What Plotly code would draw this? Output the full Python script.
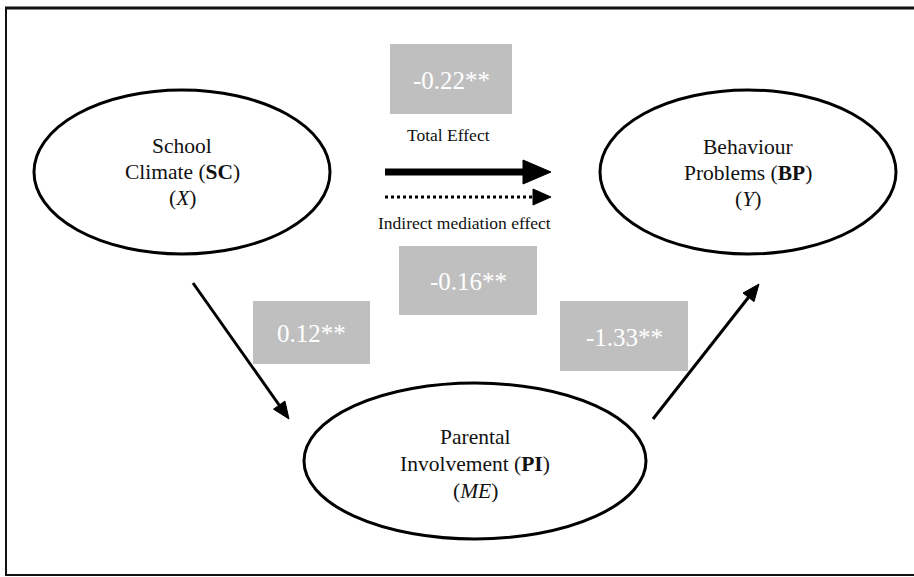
import numpy as np
import plotly.graph_objects as go

# ---- content (values / labels) ----
node_names = ["SC", "BP", "PI"]
node_lines = [
    ["School", "Climate (<b>SC</b>)", "(<i>X</i>)"],
    ["Behaviour", "Problems (<b>BP</b>)", "(<i>Y</i>)"],
    ["Parental", "Involvement (<b>PI</b>)", "(<i>ME</i>)"],
]
coef_labels = ["-0.22**", "-0.16**", "0.12**", "-1.33**"]
legend_labels = ["Total Effect", "Indirect mediation effect"]

# ---- layout geometry (pixels in a 914x577 canvas) ----
W, H = 914, 577
ellipses = {  # cx, cy, rx, ry
    "SC": (182, 172, 148, 82),
    "BP": (748, 172, 148, 82),
    "PI": (475, 461, 171, 78),
}
line_y = {"SC": [146, 172, 198], "BP": [147, 173, 199], "PI": [437, 464, 491]}
coef_boxes = [  # x0, y0, x1, y1
    (390, 44, 512, 114),
    (399, 246, 537, 315),
    (253, 301, 370, 364),
    (560, 301, 688, 371),
]
serif = "Liberation Serif"
ink = "#111111"
gray = "#bfbfbf"

shapes = []
annotations = []

# frame
shapes.append(dict(type="line", x0=5, y0=8, x1=W, y1=8, line=dict(color="#111", width=3)))
shapes.append(dict(type="line", x0=6, y0=7, x1=6, y1=575, line=dict(color="#111", width=2)))
shapes.append(dict(type="line", x0=5, y0=575, x1=W, y1=575, line=dict(color="#111", width=2)))

# ellipses and their text
for name, lines in zip(node_names, node_lines):
    cx, cy, rx, ry = ellipses[name]
    shapes.append(dict(type="circle", x0=cx - rx, x1=cx + rx, y0=cy - ry, y1=cy + ry,
                       line=dict(color="#000", width=3), fillcolor="rgba(0,0,0,0)"))
    for txt, yy in zip(lines, line_y[name]):
        annotations.append(dict(x=cx, y=yy, text=txt, showarrow=False,
                                font=dict(family=serif, size=21.5, color=ink),
                                xanchor="center", yanchor="middle"))

# coefficient boxes
for (x0, y0, x1, y1), lab in zip(coef_boxes, coef_labels):
    shapes.append(dict(type="rect", x0=x0, y0=y0, x1=x1, y1=y1,
                       fillcolor=gray, line=dict(width=0), layer="below"))
    annotations.append(dict(x=(x0 + x1) / 2, y=(y0 + y1) / 2 + 1, text=lab, showarrow=False,
                            font=dict(family=serif, size=25, color="white"),
                            xanchor="center", yanchor="middle"))

# legend texts
annotations.append(dict(x=448, y=135, text=legend_labels[0], showarrow=False,
                        font=dict(family=serif, size=17.5, color=ink)))
annotations.append(dict(x=464, y=223, text=legend_labels[1], showarrow=False,
                        font=dict(family=serif, size=17.5, color=ink)))


def arrow(p0, p1, width, head_len, head_half, dash="solid"):
    p0 = np.array(p0, float)
    p1 = np.array(p1, float)
    d = p1 - p0
    u = d / np.linalg.norm(d)
    n = np.array([-u[1], u[0]])
    base = p1 - head_len * u
    shaft_end = p1 - (head_len - 2) * u
    shapes.append(dict(type="line", x0=p0[0], y0=p0[1], x1=shaft_end[0], y1=shaft_end[1],
                       line=dict(color="#000", width=width, dash=dash)))
    a = base + head_half * n
    b = base - head_half * n
    path = f"M {p1[0]:.2f},{p1[1]:.2f} L {a[0]:.2f},{a[1]:.2f} L {b[0]:.2f},{b[1]:.2f} Z"
    shapes.append(dict(type="path", path=path, fillcolor="#000", line=dict(color="#000", width=1)))


# legend arrows
arrow((385, 172), (551, 172), 7, 28, 12)
arrow((385, 197), (551, 197), 3, 18, 8, dash="dot")
# path arrows
arrow((193, 283), (289, 419), 3, 17, 7)
arrow((653, 419), (759, 284), 3, 17, 7)

fig = go.Figure()
fig.update_layout(
    width=W, height=H,
    margin=dict(l=0, r=0, t=0, b=0),
    paper_bgcolor="white", plot_bgcolor="white",
    xaxis=dict(range=[0, W], visible=False, fixedrange=True),
    yaxis=dict(range=[H, 0], visible=False, fixedrange=True),
    shapes=shapes, annotations=annotations, showlegend=False,
)
fig.write_html("out.html", config={"displayModeBar": False},
               post_script="document.body.style.margin='0';document.body.style.overflow='hidden';")
